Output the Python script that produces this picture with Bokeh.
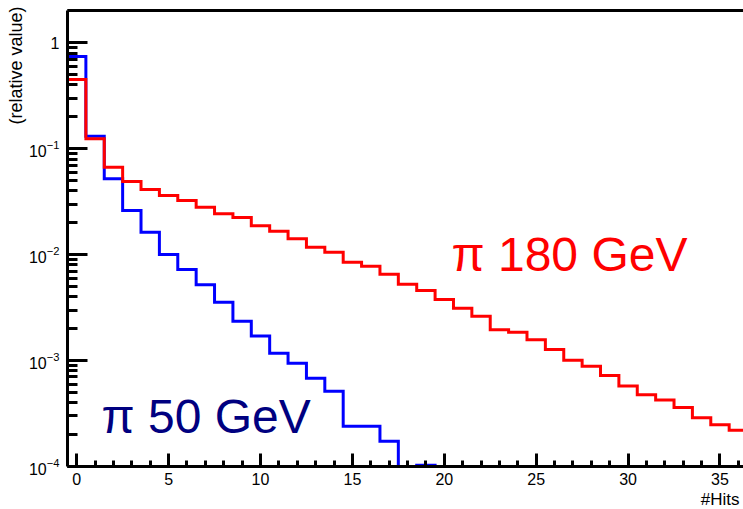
import numpy as np
from bokeh.plotting import figure
from bokeh.models import (Range1d, LogTicker, SingleIntervalTicker, LogTickFormatter, Label,
                          Title, LinearAxis, FixedTicker)
from bokeh.embed import file_html
from bokeh.resources import INLINE

# ---- data (relative value per #Hits bin, bins centred on integers) ----
pi50_values = [0.742, 0.1312, 0.0520, 0.0261, 0.01627, 0.01002, 0.00723, 0.00519,
               0.00355, 0.00235, 0.00171, 0.00117, 0.000943, 0.000681, 0.000513,
               0.000240, 0.000240, 0.000173, 0.0, 0.000103]
pi180_values = [0.450, 0.1241, 0.0669, 0.0490, 0.0412, 0.0361, 0.0324, 0.0280,
                0.0243, 0.0224, 0.0188, 0.01663, 0.01410, 0.01174, 0.01054, 0.00848,
                0.00777, 0.00653, 0.00525, 0.00458, 0.00377, 0.00312, 0.00262,
                0.00196, 0.00185, 0.00157, 0.00127, 0.00101, 0.000883, 0.000722,
                0.000574, 0.000477, 0.000425, 0.000360, 0.000289, 0.000248, 0.000220]
label_50 = "π 50 GeV"
label_180 = "π 180 GeV"
x_title = "#Hits"
y_title = "(relative value)"

Y_MIN, Y_MAX = 1e-4, 2.02
X_MIN, X_MAX = -0.5, 36.28

p = figure(width=743, height=509, y_axis_type="log",
           x_range=Range1d(X_MIN, X_MAX), y_range=Range1d(Y_MIN, Y_MAX),
           output_backend="svg", toolbar_location=None,
           min_border_left=67, min_border_right=0, min_border_top=10, min_border_bottom=43)

p.xgrid.visible = False
p.ygrid.visible = False
p.outline_line_color = None
p.background_fill_color = "white"
p.border_fill_color = "white"


def hist_path(vals):
    v = np.asarray(vals, dtype=float)
    v = np.where(v > 0, v, Y_MIN)
    edges = np.arange(len(v) + 1) - 0.5
    ys = np.append(v, Y_MIN)
    return edges, ys


xb, yb = hist_path(pi50_values)
p.step(x=xb, y=yb, mode="after", line_color="#0000ff", line_width=3, line_join="miter")
xr, yr = hist_path(pi180_values)
p.step(x=xr, y=yr, mode="after", line_color="#ff0000", line_width=3, line_join="miter")

FONT = "Liberation Sans"

xa = p.xaxis[0]
xa.ticker = SingleIntervalTicker(interval=5, num_minor_ticks=5)
xa.axis_line_width = 3
xa.major_tick_in = 13
xa.major_tick_out = 0
xa.minor_tick_in = 6
xa.minor_tick_out = 0
xa.major_tick_line_width = 3
xa.minor_tick_line_width = 3
xa.major_label_text_font = FONT
xa.major_label_text_font_size = "16px"
xa.major_label_text_color = "black"
xa.major_label_standoff = 6

ya = p.yaxis[0]
ya.ticker = LogTicker(num_minor_ticks=10)
ya.formatter = LogTickFormatter(min_exponent=1)
ya.axis_line_width = 3
ya.major_tick_in = 20
ya.major_tick_out = 0
ya.minor_tick_in = 10
ya.minor_tick_out = 0
ya.major_tick_line_width = 3
ya.minor_tick_line_width = 3
ya.major_label_text_font = FONT
ya.major_label_text_font_size = "16px"
ya.major_label_text_color = "black"
ya.major_label_standoff = 8

# top frame line (no ticks, no labels)
top_axis = LinearAxis(ticker=FixedTicker(ticks=[]), axis_line_width=3, axis_line_color="black",
                      major_tick_in=0, major_tick_out=0, minor_tick_in=0, minor_tick_out=0,
                      major_label_standoff=0, major_label_text_font_size="0px")
p.add_layout(top_axis, "above")

p.add_layout(Title(text=y_title, align="right", text_font=FONT, text_font_size="18px",
                   text_font_style="normal", text_color="black", standoff=0, offset=-4),
             "left")
p.add_layout(Title(text=x_title, align="right", text_font=FONT, text_font_size="17px",
                   text_font_style="normal", text_color="black", standoff=0, offset=4),
             "below")

p.add_layout(Label(x=384, y=212, x_units="screen", y_units="screen", text=label_180,
                   text_font=FONT, text_font_size="48px", text_color="#ff0000",
                   text_baseline="alphabetic"))
p.add_layout(Label(x=34, y=50.5, x_units="screen", y_units="screen", text=label_50,
                   text_font=FONT, text_font_size="48px", text_color="#000080",
                   text_baseline="alphabetic"))

open("out.html", "w").write(file_html(p, INLINE))
